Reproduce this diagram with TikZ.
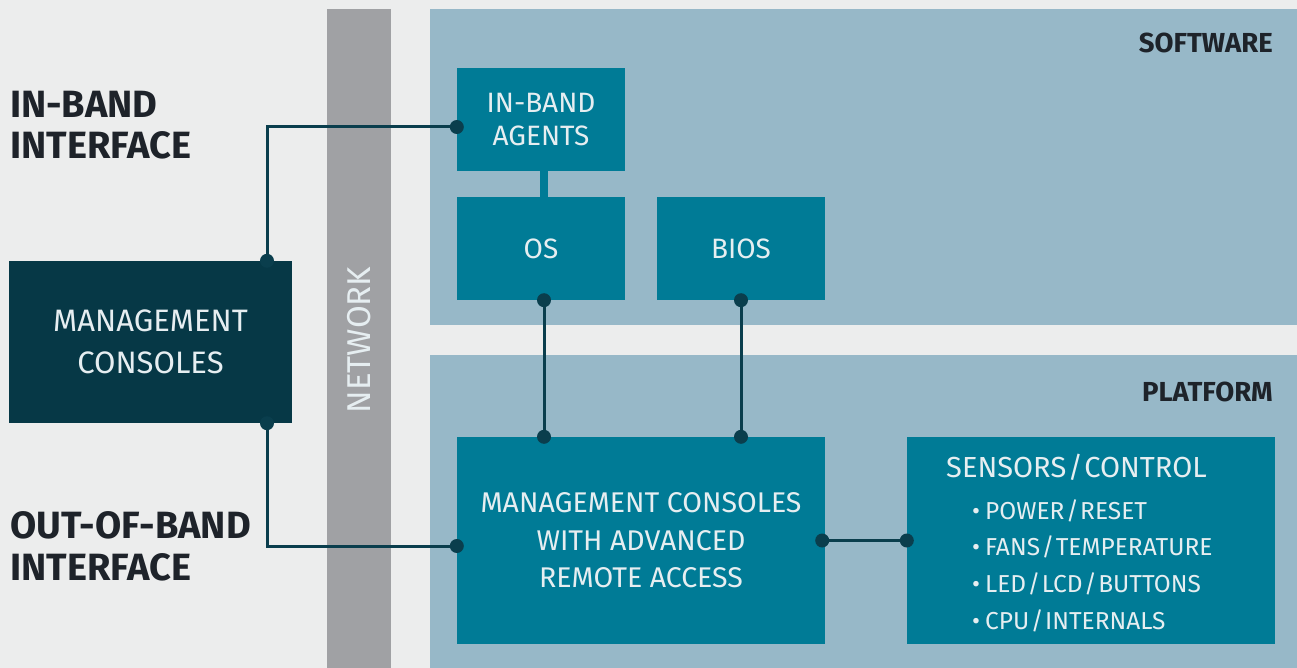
\documentclass[tikz,border=0pt]{standalone}
\usepackage{fontspec}
\setmainfont{Fira Sans}
\definecolor{bgpaper}{HTML}{ECEDED}
\definecolor{panelblue}{HTML}{97B8C8}
\definecolor{boxteal}{HTML}{007B96}
\definecolor{boxdark}{HTML}{063846}
\definecolor{netgray}{HTML}{A0A1A4}
\definecolor{wireink}{HTML}{0A3E4D}
\definecolor{headink}{HTML}{1E232A}
\definecolor{boxink}{HTML}{E6EEF1}
\newcommand\slashsep{\hspace{1.5pt}/\hspace{1.5pt}}
\tikzset{
  panel/.style={rectangle, fill=panelblue, inner sep=0pt},
  tealbox/.style={rectangle, fill=boxteal, inner sep=0pt, text=boxink, align=center,
    font=\fontsize{28}{33}\selectfont},
  darkbox/.style={rectangle, fill=boxdark, inner sep=0pt, text=boxink, align=center,
    font=\fontsize{31}{42}\selectfont},
  heading/.style={anchor=base west, inner sep=0pt, text=headink,
    font=\fontsize{38}{41}\selectfont\bfseries},
  paneltitle/.style={anchor=base east, inner sep=0pt, text=headink,
    font=\fontsize{27.5}{30}\selectfont\bfseries},
  listtitle/.style={anchor=base west, inner sep=0pt, text=boxink,
    font=\fontsize{29}{34}\selectfont},
  listitem/.style={anchor=base west, inner sep=0pt, text=boxink,
    font=\fontsize{24.5}{30}\selectfont},
  wire/.style={draw=wireink, line width=3pt},
  joint/.style={circle, fill=wireink, inner sep=0pt, minimum size=14pt},
}
\begin{document}
\begin{tikzpicture}[x=1pt,y=-1pt]
  % page background
  \fill[bgpaper] (0,0) rectangle (1297,668);
  \useasboundingbox (0,0) rectangle (1297,668);

  % network bar and layer panels
  \node[rectangle, fill=netgray, inner sep=0pt, minimum width=64pt, minimum height=659pt]
    (net) at (359,338.5) {};
  \node[rotate=90, text=boxink, font=\fontsize{33}{36}\selectfont] (nettext) at (359,340) {NETWORK};
  \node[panel, minimum width=867pt, minimum height=316pt] (sw) at (863.5,167) {};
  \node[panel, minimum width=867pt, minimum height=313pt] (pf) at (863.5,511.5) {};
  \node[paneltitle] (swtitle) at (1273,53) {SOFTWARE};
  \node[paneltitle] (pftitle) at (1273,401) {PLATFORM};

  % interface headings
  \node[heading] (ib1) at (10,118) {IN-BAND};
  \node[heading] (ib2) at (10,159) {INTERFACE};
  \node[heading] (oob1) at (10,538) {OUT-OF-BAND};
  \node[heading] (oob2) at (10,580) {INTERFACE};

  % boxes
  \node[tealbox, minimum width=168pt, minimum height=103pt] (agents) at (541,119.5) {IN-BAND\\AGENTS};
  \node[tealbox, minimum width=168pt, minimum height=103pt] (os) at (541,248.5) {OS};
  \node[tealbox, minimum width=168pt, minimum height=103pt] (bios) at (741,248.5) {BIOS};
  \node[darkbox, minimum width=283pt, minimum height=162pt] (mc) at (150.5,342) {MANAGEMENT\\CONSOLES};
  \node[tealbox, minimum width=368pt, minimum height=207pt, font=\fontsize{28.5}{37.5}\selectfont]
    (rac) at (641,540.5) {MANAGEMENT CONSOLES\\WITH ADVANCED\\REMOTE ACCESS};
  \node[tealbox, minimum width=368pt, minimum height=207pt] (sens) at (1091,540.5) {};

  % sensor / control list
  \node[listtitle] (senst) at (946,477) {SENSORS\slashsep CONTROL};
  \node[listitem] (s1) at (972,519) {•\hspace{5pt}POWER\slashsep RESET};
  \node[listitem] (s2) at (972,555.5) {•\hspace{5pt}FANS\slashsep TEMPERATURE};
  \node[listitem] (s3) at (972,592) {•\hspace{5pt}LED\slashsep LCD\slashsep BUTTONS};
  \node[listitem] (s4) at (972,629) {•\hspace{5pt}CPU\slashsep INTERNALS};

  % agents sit on the OS
  \draw[draw=boxteal, line width=8pt] ([xshift=3pt]agents.south) -- ([xshift=3pt]os.north);

  % connector end points
  \coordinate (mcTop) at ([xshift=116.5pt]mc.north);
  \coordinate (mcBot) at ([xshift=116.5pt]mc.south);
  \coordinate (agIn) at ([yshift=-7.5pt]agents.west);
  \coordinate (racIn) at ([yshift=-5.5pt]rac.west);
  \coordinate (osOut) at ([xshift=3pt]os.south);
  \coordinate (biosOut) at (bios.south);
  \coordinate (racOs) at (osOut |- rac.north);
  \coordinate (racBios) at (biosOut |- rac.north);
  \coordinate (racOut) at ([xshift=-3pt]rac.east);

  % connectors
  \draw[wire] (mcTop) |- (agIn);
  \draw[wire] (mcBot) |- (racIn);
  \draw[wire] (osOut) -- (racOs);
  \draw[wire] (biosOut) -- (racBios);
  \draw[wire] (racOut) -- (sens.west);

  % joints
  \foreach \p in {mcTop,mcBot,agIn,racIn,osOut,biosOut,racOs,racBios,racOut,sens.west}
    \node[joint] at (\p) {};
\end{tikzpicture}
\end{document}
